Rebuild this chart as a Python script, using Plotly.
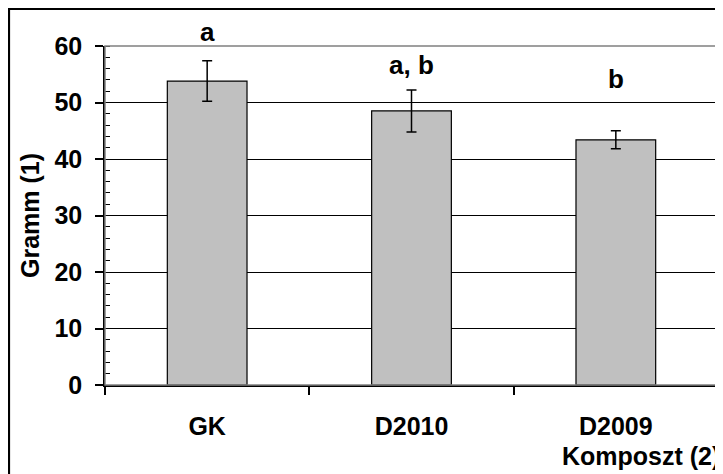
import plotly.graph_objects as go

categories = ["GK", "D2010", "D2009"]
means = [53.8, 48.5, 43.4]
errors = [3.6, 3.7, 1.6]
letters = ["a", "a, b", "b"]
letter_y = [62.5, 56.6, 54.2]
y_ticks = [0, 10, 20, 30, 40, 50, 60]

# page is offset by the 8px body margin
OFF = 8
W, H = 723 - OFF, 474 - OFF
L, R, T, B = 105 - OFF, 5, 46 - OFF, 474 - 385
pw, ph = W - L - R, H - T - B
YMAX = 60

def px(x):
    return (x - OFF - L) / pw

def py(y):
    return (H - B - (y - OFF)) / ph

FONT = "Liberation Sans, Arial, sans-serif"

fig = go.Figure()
fig.add_trace(go.Bar(
    x=categories, y=means,
    marker=dict(color="#C0C0C0", line=dict(color="black", width=1.2)),
    error_y=dict(type="data", array=errors, visible=True, color="black", thickness=1.5, width=5),
    width=0.39,
))

for c, t, yv in zip(categories, letters, letter_y):
    fig.add_annotation(x=c, y=yv / YMAX, text=t, showarrow=False, xref="x", yref="paper",
                       yanchor="middle",
                       font=dict(family=FONT, size=26, color="black", weight="bold"))

fig.add_annotation(x=px(560), y=py(456), xref="paper", yref="paper", text="Komposzt (2)",
                   showarrow=False, xanchor="left", yanchor="middle",
                   font=dict(family=FONT, size=25, color="black", weight="bold"))
fig.add_annotation(x=px(30), y=py(216), xref="paper", yref="paper", text="Gramm (1)",
                   showarrow=False, textangle=-90, xanchor="center", yanchor="middle",
                   font=dict(family=FONT, size=25, color="black", weight="bold"))

# plot area border (gray)
fig.add_shape(type="rect", xref="paper", yref="paper", x0=0, x1=1, y0=0, y1=1,
              line=dict(color="#808080", width=1.5), layer="above")
# outer chart border
fig.add_shape(type="rect", xref="paper", yref="paper", x0=px(9), x1=px(760), y0=py(520), y1=py(9),
              line=dict(color="black", width=2.2))

fig.update_layout(
    width=W, height=H,
    margin=dict(l=L, r=R, t=T, b=B, autoexpand=False),
    paper_bgcolor="white", plot_bgcolor="white",
    showlegend=False,
    font=dict(family=FONT, color="black"),
    xaxis=dict(
        type="category", tickson="boundaries", ticks="outside", ticklen=8, tickwidth=1.5,
        tickcolor="black", showline=True, linecolor="black", linewidth=1.5,
        showgrid=False, ticklabelstandoff=18,
        tickfont=dict(family=FONT, size=25, color="black", weight="bold"),
    ),
    yaxis=dict(
        range=[0, YMAX], tickvals=y_ticks, ticks="outside", ticklen=8, tickwidth=1.5,
        tickcolor="black", showline=True, linecolor="black", linewidth=1.5,
        showgrid=True, gridcolor="black", gridwidth=1, zeroline=False,
        ticklabelstandoff=8,
        tickfont=dict(family=FONT, size=25, color="black", weight="bold"),
        minor=dict(ticks="inside", dtick=2, ticklen=5, tickcolor="black", tickwidth=1.2, showgrid=False),
    ),
)

fig.write_html("out.html")
